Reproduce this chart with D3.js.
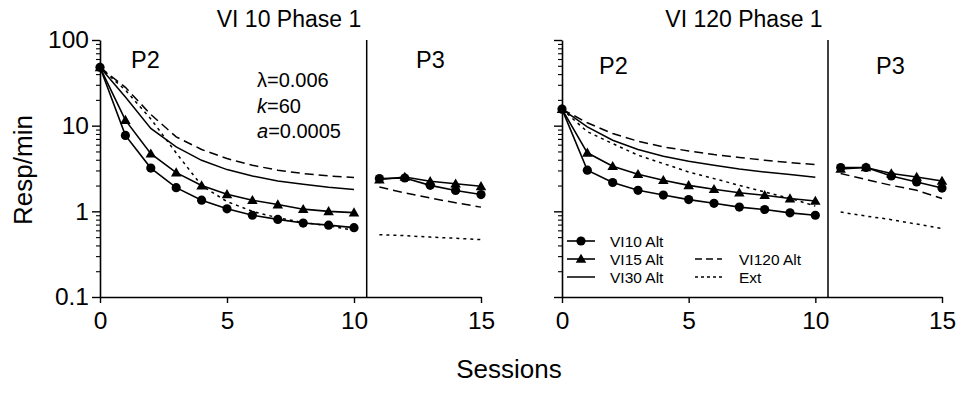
<!DOCTYPE html>
<html>
<head>
<meta charset="utf-8">
<script src="https://cdn.jsdelivr.net/npm/d3@7/dist/d3.min.js"></script>
<style>
  html, body { margin: 0; padding: 0; background: #fff; }
  svg { display: block; font-family: "Liberation Sans", Arial, Helvetica, sans-serif; }
</style>
</head>
<body>
<svg id="chart" width="966" height="393"></svg>
<script>
// ---------------- DATA ----------------
const sessionsP2 = [0, 1, 2, 3, 4, 5, 6, 7, 8, 9, 10];
const sessionsP3 = [11, 12, 13, 14, 15];
const yTickValues = [0.1, 1, 10, 100];
const yTickLabels = ["0.1", "1", "10", "100"];
const xTickValues = [0, 5, 10, 15];
const seriesNames = ["VI10 Alt", "VI15 Alt", "VI30 Alt", "VI120 Alt", "Ext"];
const panelTitles = ["VI 10 Phase 1", "VI 120 Phase 1"];
const paramLines = [["λ", "=0.006"], ["k", "=60"], ["a", "=0.0005"]];

// Left panel: VI 10 Phase 1
const leftVI10P2  = [48, 7.7, 3.2, 1.89, 1.35, 1.07, 0.90, 0.805, 0.73, 0.69, 0.645];
const leftVI15P2  = [48, 11.6, 4.7, 2.83, 2.0, 1.58, 1.35, 1.2, 1.06, 1.0, 0.966];
const leftVI30P2  = [48, 21.6, 9.3, 5.65, 3.94, 3.07, 2.59, 2.26, 2.07, 1.91, 1.80];
const leftVI120P2 = [48, 28, 13.5, 7.4, 5.27, 4.13, 3.45, 3.02, 2.76, 2.59, 2.48];
const leftExtP2   = [48, 26, 12, 4.8, 2.0, 1.3, 1.0, 0.84, 0.74, 0.68, 0.6];
const leftVI10P3  = [2.41, 2.45, 2.01, 1.75, 1.57];
const leftVI15P3  = [2.35, 2.52, 2.24, 2.1, 1.96];
const leftVI120P3 = [1.92, 1.64, 1.43, 1.26, 1.12];
const leftExtP3   = [0.533, 0.52, 0.5, 0.485, 0.467];

// Right panel: VI 120 Phase 1
const rightVI10P2  = [15.6, 3.02, 2.17, 1.76, 1.55, 1.37, 1.24, 1.12, 1.05, 0.96, 0.90];
const rightVI15P2  = [15.6, 4.82, 3.36, 2.71, 2.31, 2.01, 1.81, 1.65, 1.54, 1.41, 1.32];
const rightVI30P2  = [15.6, 9.7, 6.76, 5.27, 4.4, 3.85, 3.45, 3.12, 2.88, 2.69, 2.5];
const rightVI120P2 = [15.6, 10.8, 8.1, 6.58, 5.65, 5.07, 4.6, 4.25, 3.95, 3.71, 3.51];
const rightExtP2   = [15.6, 8.5, 6.18, 4.52, 3.61, 2.88, 2.41, 2.01, 1.68, 1.42, 1.15];
const rightVI10P3  = [3.25, 3.25, 2.59, 2.2, 1.87];
const rightVI15P3  = [3.12, 3.25, 2.76, 2.52, 2.26];
const rightVI120P3 = [2.76, 2.35, 2.01, 1.76, 1.41];
const rightExtP3   = [0.98, 0.88, 0.8, 0.71, 0.63];

// ---------------- DRAW ----------------
const svg = d3.select("#chart");
const y = d3.scaleLog().domain([0.1, 100]).range([297, 40]);
const minorTicks = [];
[0.1, 1, 10].forEach(d => { for (let k = 2; k <= 9; k++) minorTicks.push(d * k); });

const styles = {
  "VI10 Alt":  { dash: null, marker: "circle", width: 1.6 },
  "VI15 Alt":  { dash: null, marker: "triangle", width: 1.6 },
  "VI30 Alt":  { dash: null, marker: null, width: 1.5 },
  "VI120 Alt": { dash: "9,5", marker: null, width: 1.5 },
  "Ext":       { dash: "3,4", marker: null, width: 1.5 }
};

function drawMarker(g, type, cx, cy) {
  if (type === "circle") {
    g.append("circle").attr("cx", cx).attr("cy", cy).attr("r", 4.6).attr("fill", "#000");
  } else if (type === "triangle") {
    g.append("path").attr("d", d3.symbol().type(d3.symbolTriangle).size(48)())
      .attr("transform", `translate(${cx},${cy + 0.8})`).attr("fill", "#000");
  }
}

function drawPanel(cfg) {
  const x = d3.scaleLinear().domain([0, 15]).range(cfg.xRange);
  const g = svg.append("g");

  // y axis
  const yAxis = d3.axisLeft(y).tickValues(yTickValues).tickSize(8).tickSizeOuter(0).tickPadding(3)
    .tickFormat((d, i) => cfg.yLabels ? yTickLabels[i] : "");
  const ya = g.append("g").attr("transform", `translate(${cfg.xRange[0]},0)`).call(yAxis);
  ya.select(".domain").attr("stroke-width", 1.6);
  ya.selectAll(".tick line").attr("stroke-width", 1.4);
  ya.selectAll("text").attr("font-size", 24.5).attr("fill", "#000")
    .attr("font-family", "'Liberation Sans', Arial, sans-serif");
  const ym = g.append("g").attr("transform", `translate(${cfg.xRange[0]},0)`)
    .call(d3.axisLeft(y).tickValues(minorTicks).tickSize(4).tickFormat(""));
  ym.select(".domain").remove();
  ym.selectAll(".tick line").attr("stroke-width", 1.1);

  // x axis
  const xAxis = d3.axisBottom(x).tickValues(xTickValues).tickSize(6).tickSizeOuter(0).tickPadding(9)
    .tickFormat(d3.format("d"));
  const xa = g.append("g").attr("transform", `translate(0,${y(0.1)})`).call(xAxis);
  xa.select(".domain").attr("stroke-width", 1.6);
  xa.selectAll(".tick line").attr("stroke-width", 1.4);
  xa.selectAll("text").attr("font-size", 24.5).attr("fill", "#000")
    .attr("font-family", "'Liberation Sans', Arial, sans-serif");

  // separator between P2 and P3
  g.append("line").attr("x1", x(10.5)).attr("x2", x(10.5)).attr("y1", y(100)).attr("y2", y(0.1))
    .attr("stroke", "#000").attr("stroke-width", 1.5);

  // series
  const line = d3.line().x(d => x(d[0])).y(d => y(d[1]));
  cfg.series.forEach(s => {
    const st = styles[s.name];
    [[sessionsP2, s.p2], [sessionsP3, s.p3]].forEach(([xs, vs]) => {
      if (!vs) return;
      const pts = xs.map((xv, i) => [xv, vs[i]]);
      g.append("path").attr("d", line(pts)).attr("fill", "none").attr("stroke", "#000")
        .attr("stroke-width", st.width).attr("stroke-dasharray", st.dash);
      if (st.marker) pts.forEach(p => drawMarker(g, st.marker, x(p[0]), y(p[1])));
    });
  });

  // titles / labels
  g.append("text").attr("x", cfg.titleX).attr("y", 27).attr("text-anchor", "middle")
    .attr("font-size", 23).text(cfg.title);
  g.append("text").attr("x", cfg.p2X).attr("y", cfg.pY).attr("font-size", 23.5).text("P2");
  g.append("text").attr("x", cfg.p3X).attr("y", cfg.pY).attr("font-size", 23.5).text("P3");
  return { g, x };
}

const left = drawPanel({
  xRange: [100, 481], yLabels: true, title: panelTitles[0], titleX: 289,
  p2X: 131, p3X: 416, pY: 68,
  series: [
    { name: "VI30 Alt", p2: leftVI30P2, p3: null },
    { name: "VI120 Alt", p2: leftVI120P2, p3: leftVI120P3 },
    { name: "Ext", p2: leftExtP2, p3: leftExtP3 },
    { name: "VI15 Alt", p2: leftVI15P2, p3: leftVI15P3 },
    { name: "VI10 Alt", p2: leftVI10P2, p3: leftVI10P3 }
  ]
});

const right = drawPanel({
  xRange: [562, 942], yLabels: false, title: panelTitles[1], titleX: 744,
  p2X: 599, p3X: 876, pY: 74,
  series: [
    { name: "VI30 Alt", p2: rightVI30P2, p3: null },
    { name: "VI120 Alt", p2: rightVI120P2, p3: rightVI120P3 },
    { name: "Ext", p2: rightExtP2, p3: rightExtP3 },
    { name: "VI15 Alt", p2: rightVI15P2, p3: rightVI15P3 },
    { name: "VI10 Alt", p2: rightVI10P2, p3: rightVI10P3 }
  ]
});

// parameter annotation (left panel)
const ann = left.g.append("g").attr("font-size", 20);
paramLines.forEach((pl, i) => {
  const t = ann.append("text").attr("x", 257).attr("y", 87 + i * 25.5);
  t.append("tspan").attr("font-style", i === 0 ? "normal" : "italic").text(pl[0]);
  t.append("tspan").text(pl[1]);
});

// legend (right panel)
const legendItems = [
  { name: seriesNames[0], lx: 567, ty: 241 },
  { name: seriesNames[1], lx: 567, ty: 259 },
  { name: seriesNames[2], lx: 567, ty: 277 },
  { name: seriesNames[3], lx: 695, ty: 259 },
  { name: seriesNames[4], lx: 695, ty: 277 }
];
const lg = svg.append("g");
legendItems.forEach(it => {
  const st = styles[it.name];
  const w = it.lx < 650 ? 28 : 27;
  lg.append("line").attr("x1", it.lx).attr("x2", it.lx + w).attr("y1", it.ty).attr("y2", it.ty)
    .attr("stroke", "#000").attr("stroke-width", st.width)
    .attr("stroke-dasharray", it.name === "VI120 Alt" ? "7,4" : (it.name === "Ext" ? "3,3" : null));
  if (st.marker) drawMarker(lg, st.marker, it.lx + w / 2, it.ty);
  lg.append("text").attr("x", it.lx < 650 ? 610 : 739).attr("y", it.ty).attr("dy", "0.36em")
    .attr("font-size", 15.5).text(it.name);
});

// axis titles
svg.append("text").attr("transform", "translate(32,170) rotate(-90)").attr("text-anchor", "middle")
  .attr("font-size", 26).text("Resp/min");
svg.append("text").attr("x", 509).attr("y", 378).attr("text-anchor", "middle")
  .attr("font-size", 26).text("Sessions");
</script>
</body>
</html>
